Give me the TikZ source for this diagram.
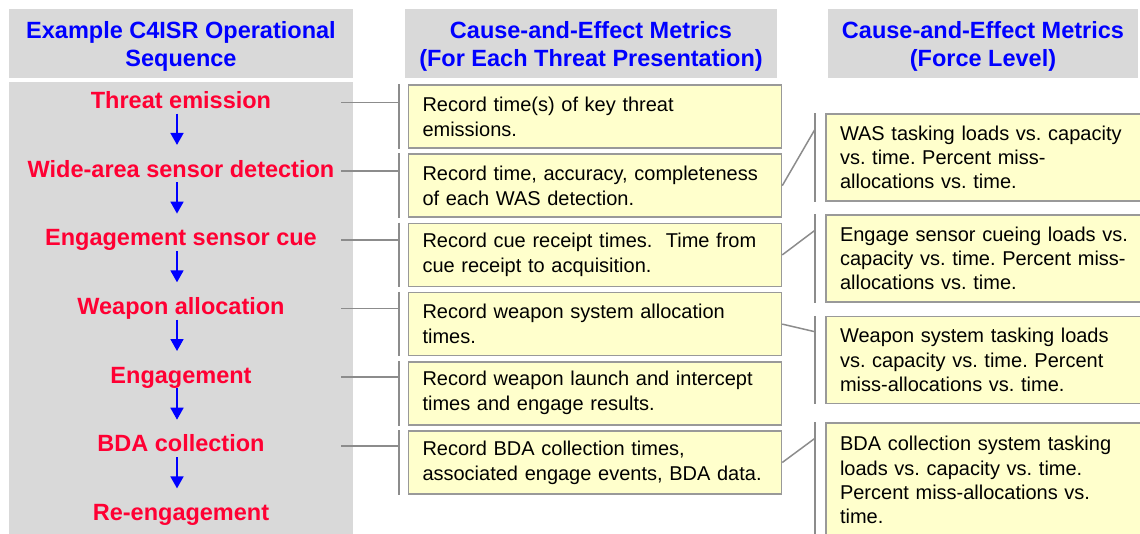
\documentclass[tikz,border=0pt]{standalone}
\usepackage{fontspec}
\setmainfont{Liberation Sans}
\usetikzlibrary{arrows.meta,calc}
\definecolor{hdrgray}{HTML}{D9D9D9}
\definecolor{seqred}{HTML}{FF0033}
\definecolor{notefill}{HTML}{FFFFCC}
\definecolor{notedraw}{HTML}{999999}
\definecolor{linkgray}{HTML}{8C8C8C}
\frenchspacing

\begin{document}
\begin{tikzpicture}[x=1pt,y=-1pt,
  header/.style={text=blue,font=\fontsize{23.5}{28}\selectfont\bfseries,align=center,inner sep=0pt},
  stage/.style={text=seqred,font=\fontsize{23.5}{28}\selectfont\bfseries,text height=17pt,text depth=5pt,inner sep=0pt,anchor=base},
  flow/.style={blue,line width=1.8pt,-{Triangle[width=13pt,length=12pt]},shorten >=15pt},
  metric/.style={draw=notedraw,fill=notefill,line width=1.5pt,font=\fontsize{20}{25}\selectfont,align=left,text width=345pt,inner xsep=14pt,minimum height=63pt},
  force/.style={metric,text width=300pt,font=\fontsize{20}{24.3}\selectfont,minimum height=87pt},
  link/.style={draw=linkgray,line width=1.5pt}]
\useasboundingbox (0,0) rectangle (1140,533);
\clip (0,0) rectangle (1140,533);

% column headers
\fill[hdrgray] (9,9) rectangle (353,78);
\fill[hdrgray] (405,9) rectangle (777,78);
\fill[hdrgray] (828,9) rectangle (1138,78);
\node[header] (hseq) at (181,46.5) {Example C4ISR Operational\\Sequence};
\node[header] (hthreat) at (591,46.5) {Cause-and-Effect Metrics\\(For Each Threat Presentation)};
\node[header] (hforce) at (983,46.5) {Cause-and-Effect Metrics\\(Force Level)};

\fill[hdrgray] (9,82) rectangle (353,540);

% operational sequence
\node[stage] (s1) at (181,108.4) {Threat emission};
\node[stage] (s2) at (181,177.1) {Wide-area sensor detection};
\node[stage] (s3) at (181,245.8) {Engagement sensor cue};
\node[stage] (s4) at (181,314.5) {Weapon allocation};
\node[stage] (s5) at (181,383.2) {Engagement};
\node[stage] (s6) at (181,451.9) {BDA collection};
\node[stage] (s7) at (181,520.6) {Re-engagement};

\coordinate (ax) at (177,0);
\draw[flow] (s1.south -| ax) -- (s2.north -| ax);
\draw[flow] (s2.south -| ax) -- (s3.north -| ax);
\draw[flow] (s3.south -| ax) -- (s4.north -| ax);
\draw[flow] (s4.south -| ax) -- (s5.north -| ax);
\draw[flow] (s5.south -| ax) -- (s6.north -| ax);
\draw[flow] (s6.south -| ax) -- (s7.north -| ax);

% per threat metrics
\node[metric] (b1) at (595,116.5) {Record time(s) of key threat\\emissions.};
\node[metric] (b2) at (595,185.7) {Record time, accuracy, completeness\\of each WAS detection.};
\node[metric] (b3) at (595,254.9) {Record cue receipt times.\ \ Time from\\cue receipt to acquisition.};
\node[metric] (b4) at (595,324.1) {Record weapon system allocation\\times.};
\node[metric] (b5) at (595,393.3) {Record weapon launch and intercept\\times and engage results.};
\node[metric] (b6) at (595,462.5) {Record BDA collection times,\\associated engage events, BDA data.};

% force level metrics
\node[force] (r1) at (990,157.5) {WAS tasking loads vs. capacity\\vs. time. Percent miss-\\allocations vs. time.};
\node[force] (r2) at (990,258.5) {Engage sensor cueing loads vs.\\capacity vs. time. Percent miss-\\allocations vs. time.};
\node[force] (r3) at (990,360) {Weapon system tasking loads\\vs. capacity vs. time. Percent\\miss-allocations vs. time.};
\node[force,minimum height=114pt] (r4) at (990,480) {BDA collection system tasking\\loads vs. capacity vs. time.\\Percent miss-allocations vs.\\time.};

\coordinate (hx) at (341,0);
\coordinate (bx) at (399,0);
\coordinate (rx) at (815,0);
\draw[link] (s1.east -| hx) -- (s1.east -| bx);
\draw[link] (s2.east -| hx) -- (s2.east -| bx);
\draw[link] (s3.east -| hx) -- (s3.east -| bx);
\draw[link] (s4.east -| hx) -- (s4.east -| bx);
\draw[link] (s5.east -| hx) -- (s5.east -| bx);
\draw[link] (s6.east -| hx) -- (s6.east -| bx);

\draw[link] (b1.north -| bx) -- (b1.south -| bx);
\draw[link] (b2.north -| bx) -- (b2.south -| bx);
\draw[link] (b3.north -| bx) -- (b3.south -| bx);
\draw[link] (b4.north -| bx) -- (b4.south -| bx);
\draw[link] (b5.north -| bx) -- (b5.south -| bx);
\draw[link] (b6.north -| bx) -- (b6.south -| bx);

\draw[link] (r1.north -| rx) -- (r1.south -| rx);
\draw[link] (r2.north -| rx) -- (r2.south -| rx);
\draw[link] (r3.north -| rx) -- (r3.south -| rx);
\draw[link] (r4.north -| rx) -- (r4.south -| rx);

\draw[link] (b2.east) -- ($(r1.north -| rx)+(0,16)$);
\draw[link] (b3.east) -- ($(r2.north -| rx)+(0,16)$);
\draw[link] (b4.east) -- ($(r3.north -| rx)+(0,16)$);
\draw[link] (b6.east) -- ($(r4.north -| rx)+(0,16)$);
\end{tikzpicture}
\end{document}
